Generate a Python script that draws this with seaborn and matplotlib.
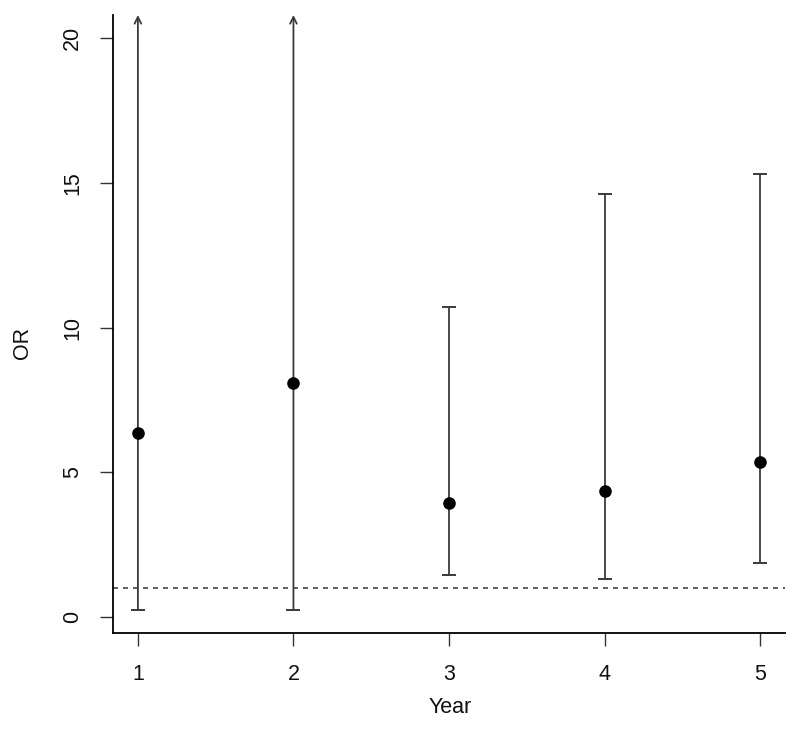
"""Odds ratio by year with 95% CI (R base-graphics look)"""
import matplotlib
matplotlib.use("Agg")
import matplotlib.pyplot as plt
import numpy as np
import pandas as pd
import seaborn as sns

# values
years = [1, 2, 3, 4, 5]
odds_ratio = [6.35, 8.10, 3.95, 4.37, 5.35]
ci_lower = [0.25, 0.27, 1.47, 1.33, 1.88]
ci_upper = [np.nan, np.nan, 10.70, 14.60, 15.30]   # nan = runs off the top
truncated = [True, True, False, False, False]
y_ticks = [0, 5, 10, 15, 20]

df = pd.DataFrame({"year": years, "OR": odds_ratio,
                   "lo": ci_lower, "hi": ci_upper, "cut": truncated})

sns.set_theme(style="white")
plt.rcParams["font.family"] = ["Liberation Sans", "DejaVu Sans"]
FS = 15.5

fig = plt.figure(figsize=(8, 7.29), dpi=100)
ax = fig.add_axes([113 / 800, 1 - 633 / 729, 672 / 800, 618 / 729])

# R-style 4% padding around the data range
ax.set_xlim(1 - 0.16, 5 + 0.16)
ymin, ymax = min(ci_lower), 20
pad = 0.04 * (ymax - ymin)
ax.set_ylim(ymin - pad, ymax + pad)

ax.axhline(1, color="#444444", lw=1.2, ls=(0, (3, 3)), zorder=1)

line_col = "#3a3a3a"
cap = 0.045
for _, r in df.iterrows():
    if r["cut"]:
        top = ymax + pad
        ax.annotate("", xy=(r["year"], top), xytext=(r["year"], r["lo"]),
                    arrowprops=dict(arrowstyle="->", color=line_col, lw=1.3,
                                    shrinkA=0, shrinkB=0,
                                    mutation_scale=12))
    else:
        top = r["hi"]
        ax.vlines(r["year"], r["lo"], top, color=line_col, lw=1.3, zorder=2)
        ax.hlines(top, r["year"] - cap, r["year"] + cap, color=line_col,
                  lw=1.4, zorder=2)
    ax.hlines(r["lo"], r["year"] - cap, r["year"] + cap, color=line_col,
              lw=1.4, zorder=2)

sns.scatterplot(data=df, x="year", y="OR", ax=ax, color="black", s=82,
                edgecolor="black", linewidth=0, zorder=3, legend=False)

ax.set_xticks(years)
ax.set_yticks(y_ticks)
ax.set_yticklabels([str(t) for t in y_ticks], rotation=90, va="center")
ax.tick_params(axis="both", which="major", length=9.5, width=1.0,
               color="#333333", labelsize=FS, labelcolor="#111111",
               bottom=True, left=True, direction="out")
ax.tick_params(axis="x", pad=13)
ax.tick_params(axis="y", pad=12)

for side in ["top", "right"]:
    ax.spines[side].set_visible(False)
for side in ["left", "bottom"]:
    ax.spines[side].set_color("black")
    ax.spines[side].set_linewidth(1.3)

ax.set_xlabel("Year", fontsize=FS, color="#111111", va="center")
ax.set_ylabel("OR", fontsize=FS, color="#111111", va="center")
ax.xaxis.set_label_coords(0.5015, -0.12)
ax.yaxis.set_label_coords(-0.134, 0.47)
ax.grid(False)

fig.savefig("out.png", dpi=100)
